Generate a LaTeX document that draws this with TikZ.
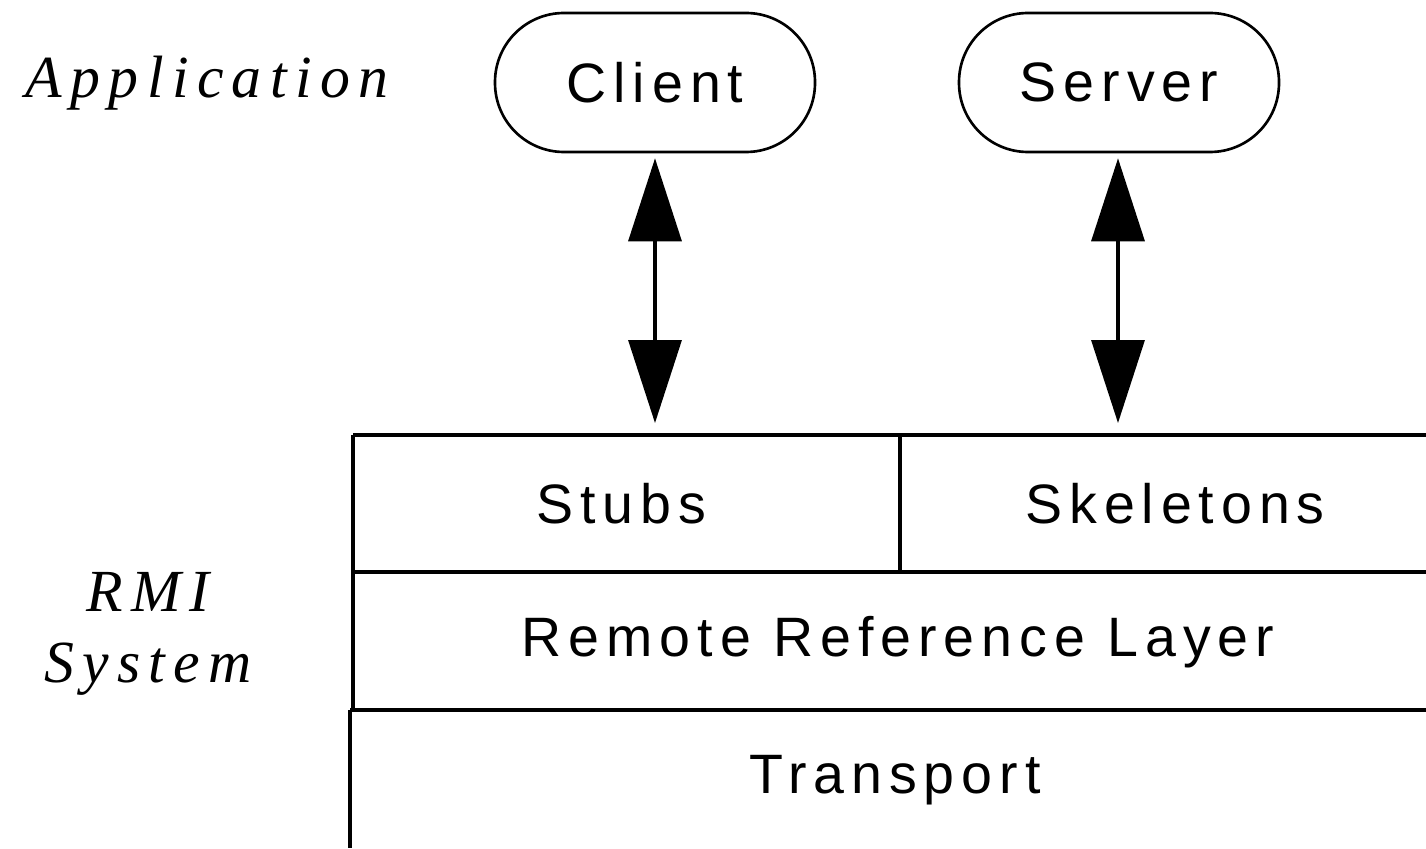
\documentclass[tikz,border=0pt]{standalone}
\usepackage{fontspec}
\usetikzlibrary{arrows.meta}
\newfontfamily\boxfont[LetterSpace=12.5]{Liberation Sans}
\newfontfamily\sidefont[LetterSpace=14]{Liberation Serif}

\begin{document}
\begin{tikzpicture}[line width=0.95pt,
  app/.style={draw, line width=0.75pt, rounded corners=0.69cm, minimum width=3.2cm, minimum height=1.39cm,
    font=\boxfont\fontsize{15.8}{18}\selectfont},
  lbl/.style={font=\boxfont\fontsize{15.8}{18}\selectfont},
  sidelbl/.style={font=\sidefont\itshape\fontsize{17}{20.4}\selectfont, align=center},
  updown/.style={{Triangle[length=0.83cm,width=0.53cm]}-{Triangle[length=0.83cm,width=0.53cm]},
    shorten <=0.05cm, shorten >=0.12cm}]
\useasboundingbox (0,0) rectangle (14.26,8.48);

% application level
\node[sidelbl] (app) at (2.07,7.65) {Application};
\node[app] (client) at (6.55,7.655) {Client};
\node[app] (server) at (11.19,7.655) {Server};

% RMI layers
\draw (3.53,4.13) -- (14.26,4.13);
\draw (3.53,4.13) -- (3.53,1.38);
\draw (3.53,2.76) -- (14.26,2.76);
\draw (9.0,4.13) -- (9.0,2.76);
\draw (3.50,1.38) -- (14.26,1.38);
\draw (3.50,1.38) -- (3.50,0);
\node[lbl] (stubs) at (6.21,3.44) {Stubs};
\node[lbl] (skel) at (11.75,3.44) {Skeletons};
\node[lbl] (rrl) at (8.98,2.06) {Remote Reference Layer};
\node[lbl] (transport) at (8.95,0.68) {Transport};
\node[sidelbl] (rmi) at (1.48,2.14) {RMI\\System};

% calls down to the stubs and skeletons
\coordinate (stubtop) at (6.55,4.13);
\coordinate (skeltop) at (11.18,4.13);
\draw[updown] (client.south) -- (stubtop);
\draw[updown] (server.south -| skeltop) -- (skeltop);
\end{tikzpicture}
\end{document}
